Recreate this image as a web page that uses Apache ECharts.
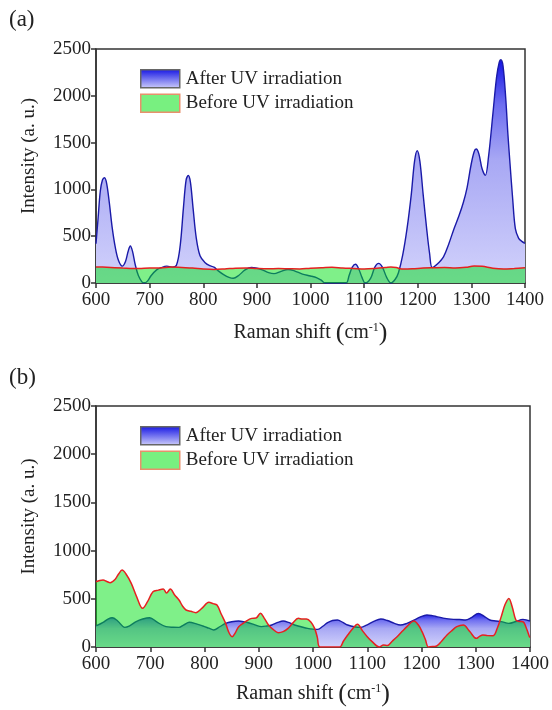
<!DOCTYPE html>
<html><head><meta charset="utf-8">
<script src="https://cdn.jsdelivr.net/npm/echarts@6/dist/echarts.min.js"></script>
<style>html,body{margin:0;padding:0;background:#fff}#c{width:552px;height:710px}</style>
</head><body><div id="c"></div>
<script>
// Panel labels and series names
const panelLabels = ['(a)', '(b)'];
const seriesNames = ['After UV irradiation', 'Before UV irradiation'];
const xRange = [600, 1400, 100];
const yRange = [0, 2500, 500];

// Panel (a): after UV irradiation [Raman shift, intensity]
const afterA = [[600,420],[604,700],[608,980],[612,1100],[616,1125],[620,1060],[625,850],[630,600],[636,380],[642,240],[649,180],[655,230],[660,340],[664,395],[668,340],[673,200],[679,80],[686,10],[690,0],[696,20],[703,80],[713,140],[722,165],[732,180],[742,170],[750,190],[757,400],[763,800],[768,1100],[772,1148],[776,1080],[781,800],[787,480],[794,290],[803,220],[812,185],[820,170],[828,130],[838,90],[848,60],[856,50],[866,80],[878,140],[890,165],[898,160],[910,140],[922,110],[932,100],[945,125],[958,145],[970,130],[985,95],[1000,75],[1012,55],[1020,30],[1027,0],[1040,0],[1066,0],[1072,80],[1078,170],[1084,200],[1090,150],[1096,60],[1102,0],[1112,50],[1120,170],[1127,210],[1134,170],[1142,60],[1150,0],[1158,40],[1164,110],[1172,300],[1180,580],[1188,950],[1194,1300],[1199,1413],[1204,1300],[1210,950],[1217,560],[1222,320],[1227,165],[1236,200],[1248,280],[1258,420],[1267,570],[1277,720],[1285,860],[1292,1020],[1299,1250],[1305,1400],[1309,1431],[1314,1380],[1320,1220],[1326,1150],[1332,1350],[1340,1800],[1347,2200],[1352,2360],[1355,2385],[1359,2320],[1364,1980],[1368,1600],[1372,1280],[1377,900],[1382,580],[1388,480],[1394,445],[1400,424]];

// Panel (a): before UV irradiation
const beforeA = [[600,172],[620,168],[650,160],[680,155],[700,160],[720,160],[740,170],[760,165],[780,160],[800,150],[820,145],[840,150],[860,158],[880,160],[900,155],[920,152],[940,155],[960,152],[980,150],[1000,158],[1020,162],[1040,168],[1060,160],[1080,155],[1100,150],[1120,155],[1140,165],[1150,172],[1160,165],[1170,150],[1190,152],[1210,160],[1230,163],[1250,165],[1270,160],[1290,168],[1305,182],[1320,178],[1340,158],[1360,150],[1380,155],[1400,162]];

// Panel (b): after UV irradiation
const afterB = [[600,218],[613,256],[622,290],[630,304],[640,270],[653,204],[662,220],[674,263],[686,290],[699,304],[712,260],[729,211],[742,205],[753,204],[762,230],[772,256],[785,240],[797,218],[808,195],[817,176],[828,210],[839,245],[850,262],[863,270],[872,262],[881,252],[893,230],[905,211],[915,218],[924,228],[935,255],[945,270],[955,255],[966,228],[978,210],[990,193],[1000,185],[1009,183],[1018,215],[1027,252],[1036,275],[1045,280],[1055,255],[1064,228],[1076,210],[1088,204],[1100,230],[1112,265],[1125,290],[1137,275],[1150,245],[1161,228],[1173,245],[1185,275],[1197,310],[1210,332],[1220,325],[1228,315],[1240,300],[1259,287],[1270,285],[1281,280],[1292,305],[1305,349],[1315,320],[1326,280],[1337,270],[1347,263],[1361,245],[1374,265],[1387,287],[1400,270]];

// Panel (b): before UV irradiation
const beforeB = [[600,677],[607,690],[613,695],[620,680],[626,667],[635,700],[642,760],[648,798],[655,760],[665,660],[675,520],[686,401],[695,470],[705,574],[715,590],[724,601],[730,560],[737,601],[745,540],[753,487],[760,420],[766,384],[775,370],[784,356],[795,400],[808,463],[816,450],[823,435],[831,340],[839,245],[845,150],[851,107],[857,150],[863,211],[875,260],[887,297],[895,300],[903,349],[910,300],[918,228],[927,180],[936,149],[945,160],[954,193],[963,250],[973,297],[980,290],[988,290],[996,260],[1003,193],[1008,100],[1013,0],[1049,0],[1056,60],[1064,124],[1073,190],[1082,235],[1091,170],[1100,107],[1110,50],[1122,0],[1130,20],[1137,15],[1146,60],[1155,107],[1164,160],[1173,211],[1186,270],[1194,230],[1201,159],[1207,80],[1213,0],[1222,5],[1228,10],[1237,60],[1247,124],[1256,170],[1265,211],[1277,228],[1289,160],[1301,90],[1307,110],[1313,124],[1322,118],[1332,117],[1340,200],[1347,315],[1354,440],[1361,504],[1367,420],[1374,280],[1380,265],[1387,263],[1393,200],[1399,107],[1400,100]];

const FONT = '"Liberation Serif", "Times New Roman", serif';
const blueGrad = () => new echarts.graphic.LinearGradient(0,0,0,1,[
  {offset:0,color:'#1414e4'},{offset:0.2,color:'#6e6ef0'},{offset:0.45,color:'#a8a8f4'},{offset:1,color:'#d2d2fb'}]);
const greenFill = 'rgba(0,226,20,0.5)';

const chart = echarts.init(document.getElementById('c'), null, {renderer:'canvas'});

const grids = [
  {left:96, top:49, width:429, height:234},
  {left:96, top:406, width:438, height:241}
];
const xNameGaps = [37, 34];

function xAxis(i){
  return {type:'value', gridIndex:i, min:xRange[0], max:xRange[1], interval:xRange[2],
    axisLine:{show:true, onZero:false, lineStyle:{color:'#333', width:1.5}},
    axisTick:{show:true, length:5, lineStyle:{color:'#333', width:1.5}},
    axisLabel:{fontFamily:FONT, fontSize:19, color:'#222', margin:8, formatter:v => String(v)},
    splitLine:{show:false},
    name:'{t|Raman shift }{p|(}{t|cm}{s|-1}{p|)}', nameLocation:'middle', nameGap:xNameGaps[i],
    nameTextStyle:{rich:{
      t:{fontFamily:FONT, fontSize:20, color:'#222'},
      p:{fontFamily:FONT, fontSize:26, color:'#222'},
      s:{fontFamily:FONT, fontSize:12, color:'#222', padding:[0,0,10,0]}
    }}
  };
}
function yAxis(i){
  return {type:'value', gridIndex:i, min:yRange[0], max:yRange[1], interval:yRange[2],
    axisLine:{show:true, lineStyle:{color:'#333', width:1.5}},
    axisTick:{show:true, length:5, lineStyle:{color:'#333', width:1.5}},
    axisLabel:{fontFamily:FONT, fontSize:19, color:'#222', margin:5, formatter:v => String(v)},
    splitLine:{show:false},
    name:'Intensity (a. u.)', nameLocation:'middle', nameGap:57,
    nameTextStyle:{fontFamily:FONT, fontSize:19, color:'#222', padding:[0,0,0,20]}
  };
}
function afterSeries(i, data){
  return {name:seriesNames[0], type:'line', xAxisIndex:i, yAxisIndex:i, data:data,
    smooth:0.35, showSymbol:false, z:2,
    lineStyle:{color:'#1a1aa8', width:1.4},
    areaStyle:{color:blueGrad(), opacity:1}};
}
function beforeSeries(i, data){
  return {name:seriesNames[1], type:'line', xAxisIndex:i, yAxisIndex:i, data:data,
    smooth:0.35, showSymbol:false, z:3,
    lineStyle:{color:'#e62020', width:1.5},
    areaStyle:{color:greenFill, opacity:1}};
}
function legend(top){
  return {top:top, left:140, padding:0, orient:'vertical', itemWidth:39, itemHeight:18, itemGap:5,
    selectedMode:false,
    textStyle:{fontFamily:FONT, fontSize:19, color:'#222', padding:[0,0,0,1]},
    data:[
      {name:seriesNames[0], icon:'rect', itemStyle:{color:new echarts.graphic.LinearGradient(0,0,0,1,[{offset:0,color:'#1414e4'},{offset:1,color:'#cfcffa'}]), borderColor:'#666', borderWidth:1.5}},
      {name:seriesNames[1], icon:'rect', itemStyle:{color:'#78f080', borderColor:'#e8906c', borderWidth:1.5}}
    ]};
}

chart.setOption({
  animation:false,
  backgroundColor:'#fff',
  grid: grids.map(g => Object.assign({show:true, borderColor:'#333', borderWidth:1.5, backgroundColor:'transparent'}, g)),
  xAxis:[xAxis(0), xAxis(1)],
  yAxis:[yAxis(0), yAxis(1)],
  legend:[legend(69), legend(426)],
  graphic:[
    {type:'text', left:9, top:8, style:{text:panelLabels[0], fontFamily:FONT, fontSize:23, fill:'#222'}},
    {type:'text', left:9, top:366, style:{text:panelLabels[1], fontFamily:FONT, fontSize:23, fill:'#222'}}
  ],
  series:[afterSeries(0, afterA), beforeSeries(0, beforeA), afterSeries(1, afterB), beforeSeries(1, beforeB)]
});
</script></body></html>
